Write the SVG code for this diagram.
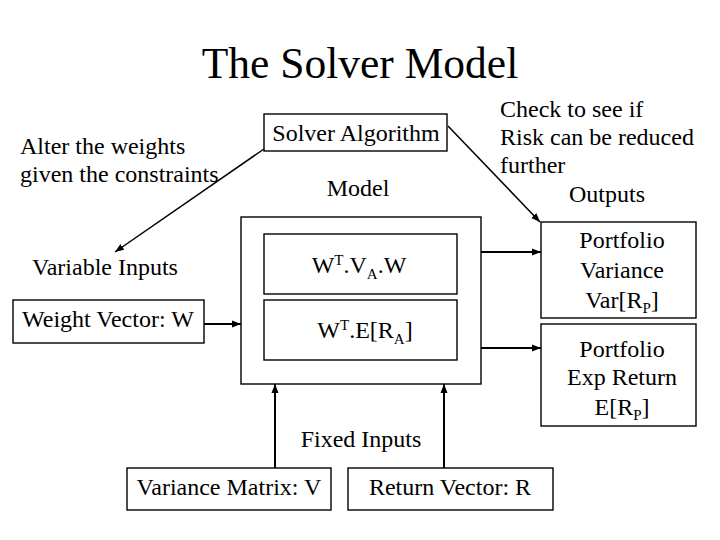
<svg xmlns="http://www.w3.org/2000/svg" width="720" height="540" viewBox="0 0 720 540">
<style>
text{fill:#000;font-size:24px}
.title{font-size:43.5px}
.c{text-anchor:middle}
.box{fill:#fff;stroke:#000;stroke-width:1.4}
.conn{stroke:#000;fill:none}
.sm{font-size:15px}
</style>
<defs>
<marker id="ah" markerUnits="userSpaceOnUse" markerWidth="10" markerHeight="8" refX="9" refY="4" orient="auto">
<path d="M0,0.5 L9,4 L0,7.5 Z" fill="#000"/>
</marker>
</defs>
<rect width="720" height="540" fill="#fff"/>
<g font-family="'Liberation Serif', 'Times New Roman', Tinos, 'DejaVu Serif', serif">
<text class="title c" x="360" y="78">The Solver Model</text>

<g id="label-alter">
<text x="20" y="154">Alter the weights</text>
<text x="20" y="182">given the constraints</text>
</g>
<g id="label-variable"><text x="32" y="275">Variable Inputs</text></g>
<g id="weight-vector">
<rect class="box" x="13" y="300" width="191" height="43"/>
<text x="22" y="327">Weight Vector: W</text>
</g>
<g id="solver-algorithm">
<rect class="box" x="264" y="114" width="183" height="37"/>
<text class="c" x="356" y="141">Solver Algorithm</text>
</g>
<g id="label-model"><text class="c" x="358" y="196">Model</text></g>
<g id="model">
<rect class="box" x="241" y="217" width="240" height="167"/>
</g>
<g id="variance-formula">
<rect class="box" x="264" y="234" width="193" height="60"/>
<text class="c" x="359" y="273">W<tspan class="sm" dy="-8">T</tspan><tspan dy="8">.V</tspan><tspan class="sm" dy="6">A</tspan><tspan dy="-6">.W</tspan></text>
</g>
<g id="return-formula">
<rect class="box" x="264" y="300" width="193" height="60"/>
<text class="c" x="365" y="338">W<tspan class="sm" dy="-8">T</tspan><tspan dy="8">.E[R</tspan><tspan class="sm" dy="6">A</tspan><tspan dy="-6">]</tspan></text>
</g>
<g id="label-check">
<text x="500" y="117">Check to see if</text>
<text x="500" y="145">Risk can be reduced</text>
<text x="500" y="173">further</text>
</g>
<g id="label-outputs"><text x="569" y="202">Outputs</text></g>
<g id="portfolio-variance">
<rect class="box" x="541" y="222" width="155" height="96"/>
<text class="c" x="622" y="248">Portfolio</text>
<text class="c" x="622" y="278">Variance</text>
<text class="c" x="622" y="308">Var[R<tspan class="sm" dy="5">P</tspan><tspan dy="-5">]</tspan></text>
</g>
<g id="portfolio-return">
<rect class="box" x="541" y="324" width="155" height="102"/>
<text class="c" x="622" y="357">Portfolio</text>
<text class="c" x="622" y="385">Exp Return</text>
<text class="c" x="622" y="415">E[R<tspan class="sm" dy="5">P</tspan><tspan dy="-5">]</tspan></text>
</g>
<g id="label-fixed"><text class="c" x="361" y="447">Fixed Inputs</text></g>
<g id="variance-matrix">
<rect class="box" x="127" y="468" width="204" height="42"/>
<text class="c" x="229" y="495">Variance Matrix: V</text>
</g>
<g id="return-vector">
<rect class="box" x="348" y="468" width="205" height="42"/>
<text class="c" x="450" y="495">Return Vector: R</text>
</g>
</g>

<g id="connectors">
<line class="conn" x1="264" y1="149" x2="115" y2="252" stroke-width="1.5" marker-end="url(#ah)"/>
<line class="conn" x1="448" y1="126" x2="540" y2="222" stroke-width="1.5" marker-end="url(#ah)"/>
<line class="conn" x1="204" y1="324" x2="241" y2="324" stroke-width="2" marker-end="url(#ah)"/>
<line class="conn" x1="481" y1="252" x2="541" y2="252" stroke-width="2" marker-end="url(#ah)"/>
<line class="conn" x1="481" y1="348" x2="541" y2="348" stroke-width="2" marker-end="url(#ah)"/>
<line class="conn" x1="275" y1="468" x2="275" y2="384" stroke-width="2" marker-end="url(#ah)"/>
<line class="conn" x1="444" y1="468" x2="444" y2="384" stroke-width="2" marker-end="url(#ah)"/>
</g>
</svg>
